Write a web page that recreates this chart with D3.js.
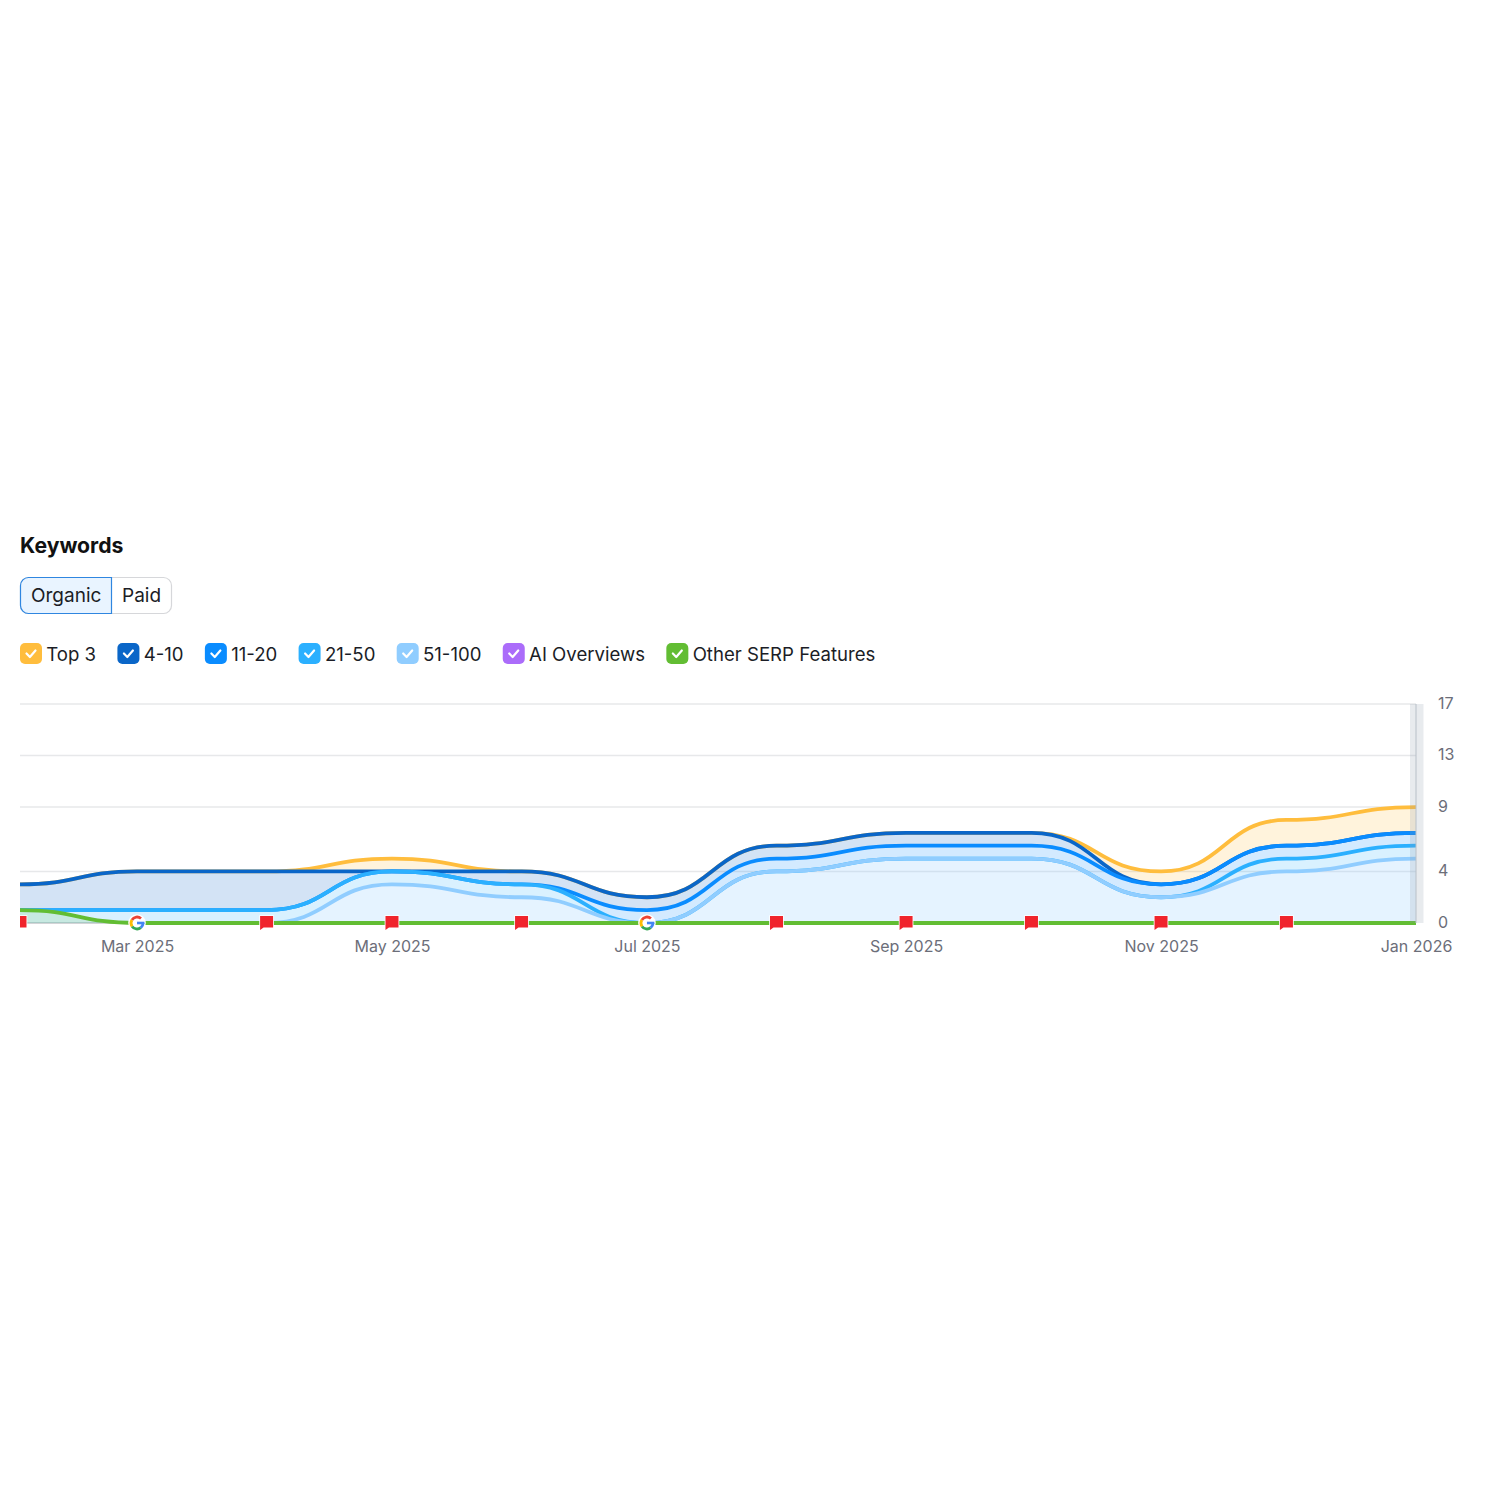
<!DOCTYPE html>
<html>
<head>
<meta charset="utf-8">
<script src="https://cdn.jsdelivr.net/npm/d3@7"></script>
<style>
  html, body { margin: 0; padding: 0; background: #fff; }
  text { font-family: Inter, "Noto Sans", sans-serif; }
</style>
</head>
<body>
<div id="chart"></div>
<script>
// monthly keyword counts
const months = ["2025-02", "2025-03", "2025-04", "2025-05", "2025-06", "2025-07",
  "2025-08", "2025-09", "2025-10", "2025-11", "2025-12", "2026-01"];
const top3 =    [0, 0, 0, 1, 0, 0, 0, 0, 0, 1, 2, 2];
const pos4_10 = [2, 3, 3, 0, 1, 1, 1, 1, 1, 0, 0, 0];
const pos11_20 = [0, 0, 0, 0, 0, 1, 1, 1, 1, 1, 1, 1];
const pos21_50 = [1, 1, 1, 1, 1, 0, 0, 0, 0, 0, 1, 1];
// null where no line shows: the grey baseline is bare in February
const pos51_100 = [null, 0, 0, 3, 2, 0, 4, 5, 5, 2, 4, 5];
const aiOverviews = [null, 0, 0, 0, 0, 0, 0, 0, 0, 0, 0, 0];
const otherSerp = [1, 0, 0, 0, 0, 0, 0, 0, 0, 0, 0, 0];

const legendLabels = ["Top 3", "4-10", "11-20", "21-50", "51-100", "AI Overviews", "Other SERP Features"];
const legendColors = ["#ffbd3d", "#0a66c8", "#0a8cff", "#2bb0ff", "#90cdff", "#ab6cfa", "#62bd33"];
const yTicks = [0, 4, 9, 13, 17];
const xTickMonths = ["2025-03", "2025-05", "2025-07", "2025-09", "2025-11", "2026-01"];
const googleMonths = ["2025-03", "2025-07"];
const flagMonths = ["2025-02", "2025-04", "2025-05", "2025-06", "2025-08", "2025-09",
  "2025-10", "2025-11", "2025-12"];

const parseMonth = d3.utcParse("%Y-%m");
const fmtMonth = d3.utcFormat("%b %Y");
const dates = months.map(parseMonth);

const svg = d3.select("#chart").append("svg")
  .attr("width", 1500).attr("height", 1500)
  .style("display", "block");

const x = d3.scaleUtc().domain(d3.extent(dates)).range([20, 1416]);
const y = d3.scaleLinear().domain([0, 17]).range([923, 704]);

// heading
svg.append("text").attr("x", 20).attr("y", 552.5)
  .attr("font-size", 21.2).attr("font-weight", 700).attr("fill", "#111")
  .text("Keywords");

// Organic / Paid toggle
const toggle = svg.append("g");
toggle.append("rect")
  .attr("x", 20.5).attr("y", 577.5).attr("width", 151).attr("height", 36).attr("rx", 8)
  .attr("fill", "#fff").attr("stroke", "#d6d7da").attr("stroke-width", 1.2);
toggle.append("path")
  .attr("d", "M111.5,577.5H28.5a8,8 0 0 0 -8,8V605.5a8,8 0 0 0 8,8H111.5Z")
  .attr("fill", "#e9f4ff").attr("stroke", "#2f86e0").attr("stroke-width", 1.2);
toggle.append("text").attr("x", 31).attr("y", 602).attr("font-size", 19).attr("fill", "#1b1d26").text("Organic");
toggle.append("text").attr("x", 122).attr("y", 602).attr("font-size", 19).attr("fill", "#1b1d26").text("Paid");

// legend, laid out left to right from the measured label widths
let legendX = 20;
legendLabels.forEach((label, i) => {
  const g = svg.append("g").attr("transform", `translate(${legendX},643)`);
  g.append("rect").attr("width", 22).attr("height", 21).attr("rx", 5).attr("fill", legendColors[i]);
  g.append("path").attr("d", "M6.5,10.5 L9.9,14 L15.5,7.5")
    .attr("fill", "none").attr("stroke", "#fff").attr("stroke-width", 2.2)
    .attr("stroke-linecap", "round").attr("stroke-linejoin", "round");
  const t = g.append("text").attr("x", 26.3).attr("y", 17.5)
    .attr("font-size", 18.6).attr("fill", "#1b1d26").text(label);
  legendX += 26.3 + t.node().getComputedTextLength() + 21.3;
});

// grid
svg.append("g").selectAll("line").data(yTicks.filter((d) => d > 0)).join("line")
  .attr("x1", 20).attr("x2", 1416)
  .attr("y1", (d) => y(d)).attr("y2", (d) => y(d))
  .attr("stroke", "#e7e8ea").attr("stroke-width", 1.5);
svg.append("line").attr("x1", 20).attr("x2", 1416).attr("y1", y(0)).attr("y2", y(0))
  .attr("stroke", "#c4c6ca").attr("stroke-width", 1.5);

// stack bottom-up, the first name sits on the baseline
const stackOrder = [pos51_100, pos21_50, pos11_20, pos4_10, top3];
const stackColors = ["#90cdff", "#2bb0ff", "#0a8cff", "#0a66c8", "#ffbd3d"];
const rows = dates.map((d, i) => {
  const row = { date: d };
  stackOrder.forEach((s, k) => { row[k] = s[i]; });
  return row;
});
const layers = d3.stack().keys(d3.range(stackOrder.length))(rows);

// flat at every month, S-shaped in between
const curve = d3.curveBumpX;
const area = d3.area()
  .x((d) => x(d.data.date))
  .y0((d) => y(d[0]))
  .y1((d) => y(d[1]))
  .curve(curve);

svg.append("g").selectAll("path").data(layers).join("path")
  .attr("d", area)
  .attr("fill", (d, i) => stackColors[i])
  .attr("fill-opacity", (d, i) => (i == 0 ? 0.23 : 0.18));

// lower series are painted over the upper ones
svg.append("g").selectAll("path").data(layers.slice().reverse()).join("path")
  .attr("d", (layer) => d3.line()
    .defined((d) => d.data[layer.key] !== null)
    .x((d) => x(d.data.date))
    .y((d) => y(d[1]))
    .curve(curve)(layer))
  .attr("fill", "none")
  .attr("stroke", (d) => stackColors[d.key])
  .attr("stroke-width", 3.8);

// the two series that are not stacked
const plain = d3.line().defined((d) => d != null)
  .x((d, i) => x(dates[i])).y((d) => y(d)).curve(curve);
const plainArea = d3.area().x((d, i) => x(dates[i])).y0(y(0)).y1((d) => y(d)).curve(curve);
svg.append("path").attr("d", plainArea(otherSerp)).attr("fill", "#62bd33").attr("fill-opacity", 0.15);
svg.append("path").attr("d", plain(aiOverviews)).attr("fill", "none").attr("stroke", "#ab6cfa").attr("stroke-width", 3.8);
svg.append("path").attr("d", plain(otherSerp)).attr("fill", "none").attr("stroke", "#62bd33").attr("stroke-width", 3.8);

// hover band at the last month
svg.append("rect").attr("x", 1410).attr("y", 704).attr("width", 6).attr("height", 219)
  .attr("fill", "#8a99a8").attr("fill-opacity", 0.2);
svg.append("rect").attr("x", 1416).attr("y", 704).attr("width", 7.5).attr("height", 219)
  .attr("fill", "#8a99a8").attr("fill-opacity", 0.2);
svg.append("line").attr("x1", 1416).attr("x2", 1416).attr("y1", 704).attr("y2", 923)
  .attr("stroke", "#b8c0c8").attr("stroke-width", 1);

// event flags, the first one is cut off by the plot edge
svg.append("clipPath").attr("id", "plotClip").append("rect")
  .attr("x", 20).attr("y", 690).attr("width", 1420).attr("height", 260);
const flags = svg.append("g").attr("clip-path", "url(#plotClip)")
  .selectAll("g").data(flagMonths.map(parseMonth)).join("g")
  .attr("transform", (d) => `translate(${x(d)},${y(0)})`);
flags.append("path")
  .attr("d", "M-6.5,-7H6.5V4.5H-3L-6.5,7Z")
  .attr("fill", "#f0242c").attr("stroke", "#fff").attr("stroke-width", 1.6)
  .attr("paint-order", "stroke");

// google update markers
const googleArcs = [
  { color: "#ea4335", a0: -0.85, a1: -2.6 },
  { color: "#fbbc05", a0: -2.6, a1: -3.75 },
  { color: "#34a853", a0: -3.75, a1: -5.4 },
  { color: "#4285f4", a0: -5.4, a1: -6.283 },
];
const google = svg.append("g").selectAll("g").data(googleMonths.map(parseMonth)).join("g")
  .attr("transform", (d) => `translate(${x(d)},${y(0)})`);
google.append("circle").attr("r", 8.8).attr("fill", "#fff");
googleArcs.forEach((seg) => {
  google.append("path")
    .attr("d", d3.arc().innerRadius(4.6).outerRadius(7.4)
      .startAngle(seg.a0 + Math.PI / 2).endAngle(seg.a1 + Math.PI / 2)())
    .attr("fill", seg.color);
});
google.append("rect").attr("x", 0).attr("y", -1.3).attr("width", 7.4).attr("height", 2.6).attr("fill", "#4285f4");

// axes
const xAxis = d3.axisBottom(x)
  .tickValues(xTickMonths.map(parseMonth))
  .tickFormat(fmtMonth).tickSize(0).tickPadding(18);
svg.append("g").attr("transform", `translate(0,${y(0)})`).call(xAxis)
  .call((g) => g.select(".domain").remove())
  .call((g) => g.selectAll("text").attr("font-size", 16).attr("font-family", "Inter").attr("fill", "#6c6e79"));

const yAxis = d3.axisRight(y).tickValues(yTicks).tickSize(0).tickPadding(0);
svg.append("g").attr("transform", "translate(1438,-1)").call(yAxis)
  .call((g) => g.select(".domain").remove())
  .call((g) => g.selectAll("text").attr("font-size", 16).attr("font-family", "Inter").attr("fill", "#6c6e79"));
</script>
</body>
</html>
